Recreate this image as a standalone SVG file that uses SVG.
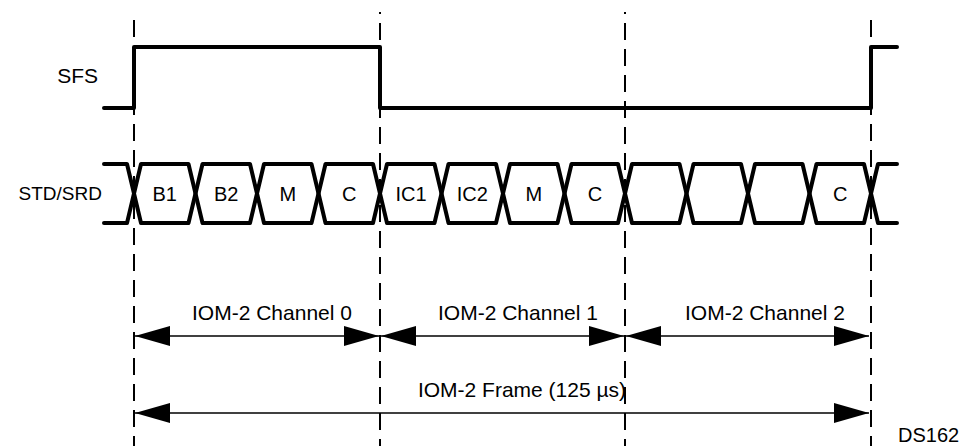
<svg xmlns="http://www.w3.org/2000/svg" width="972" height="446" viewBox="0 0 972 446">
<defs>
<style>
.t{font-family:"Liberation Sans",Arial,sans-serif;font-size:20px;fill:#000}
.l{font-size:21px}
.sig{fill:none;stroke:#000;stroke-width:4;stroke-linejoin:round;stroke-linecap:round}
.dash{stroke:#000;stroke-width:2;stroke-dasharray:17 9}
.arr{stroke:#000;stroke-width:1.5}
</style>
<marker id="ah" viewBox="0 0 35 20" refX="35" refY="10" markerWidth="35" markerHeight="20" markerUnits="userSpaceOnUse" orient="auto-start-reverse">
<path d="M0,0 L35,10 L0,20 Z" fill="#000"/>
</marker>
</defs>
<rect width="972" height="446" fill="#fff"/>
<g id="gridlines">
<line class="dash" x1="134" y1="20" x2="134" y2="446"/>
<line class="dash" x1="380" y1="12" x2="380" y2="446" stroke-dashoffset="15"/>
<line class="dash" x1="625" y1="12" x2="625" y2="446" stroke-dashoffset="15"/>
<line class="dash" x1="871" y1="20" x2="871" y2="446"/>
</g>
<g id="sfs">
<text class="t l" x="98" y="83" text-anchor="end">SFS</text>
<path class="sig" d="M104,108 H134 V47 H380 V108 H871 V47 H897"/>
</g>
<g id="std-srd">
<text class="t" x="102" y="200" text-anchor="end" style="font-size:19px">STD/SRD</text>
<path class="sig" d="M104,164 H127 L134,193.5 L127,223 H104"/>
<path class="sig" d="M897,164 H878 L871,193.5 L878,223 H897"/>
<path class="sig" d="M134,193.5 L141,164 H188.5 L195.5,193.5 L188.5,223 H141 Z"/>
<path class="sig" d="M195.5,193.5 L202.5,164 H250 L257,193.5 L250,223 H202.5 Z"/>
<path class="sig" d="M257,193.5 L264,164 H311.5 L318.5,193.5 L311.5,223 H264 Z"/>
<path class="sig" d="M318.5,193.5 L325.5,164 H373 L380,193.5 L373,223 H325.5 Z"/>
<path class="sig" d="M380,193.5 L387,164 H434.5 L441.5,193.5 L434.5,223 H387 Z"/>
<path class="sig" d="M441.5,193.5 L448.5,164 H496 L503,193.5 L496,223 H448.5 Z"/>
<path class="sig" d="M503,193.5 L510,164 H557.5 L564.5,193.5 L557.5,223 H510 Z"/>
<path class="sig" d="M564.5,193.5 L571.5,164 H618 L625,193.5 L618,223 H571.5 Z"/>
<path class="sig" d="M625,193.5 L632,164 H679.5 L686.5,193.5 L679.5,223 H632 Z"/>
<path class="sig" d="M686.5,193.5 L693.5,164 H741 L748,193.5 L741,223 H693.5 Z"/>
<path class="sig" d="M748,193.5 L755,164 H802.5 L809.5,193.5 L802.5,223 H755 Z"/>
<path class="sig" d="M809.5,193.5 L816.5,164 H864 L871,193.5 L864,223 H816.5 Z"/>
<text class="t" x="164.75" y="201" text-anchor="middle">B1</text>
<text class="t" x="226.25" y="201" text-anchor="middle">B2</text>
<text class="t" x="287.75" y="201" text-anchor="middle">M</text>
<text class="t" x="349.25" y="201" text-anchor="middle">C</text>
<text class="t" x="411" y="201" text-anchor="middle">IC1</text>
<text class="t" x="472.25" y="201" text-anchor="middle">IC2</text>
<text class="t" x="533.75" y="201" text-anchor="middle">M</text>
<text class="t" x="595" y="201" text-anchor="middle">C</text>
<text class="t" x="840.25" y="201" text-anchor="middle">C</text>
</g>
<g id="connectors">
<line class="arr" x1="135" y1="336" x2="379" y2="336" marker-start="url(#ah)" marker-end="url(#ah)"/>
<line class="arr" x1="381" y1="336" x2="624" y2="336" marker-start="url(#ah)" marker-end="url(#ah)"/>
<line class="arr" x1="626" y1="336" x2="869" y2="336" marker-start="url(#ah)" marker-end="url(#ah)"/>
<line class="arr" x1="135" y1="413" x2="869" y2="413" marker-start="url(#ah)" marker-end="url(#ah)"/>
</g>
<g id="labels">
<text class="t l" x="272" y="320" text-anchor="middle">IOM-2 Channel 0</text>
<text class="t l" x="518" y="320" text-anchor="middle">IOM-2 Channel 1</text>
<text class="t l" x="765" y="320" text-anchor="middle">IOM-2 Channel 2</text>
<text class="t l" x="522" y="397" text-anchor="middle">IOM-2 Frame (125 µs)</text>
<text class="t" x="898" y="442">DS162</text>
</g>
</svg>
